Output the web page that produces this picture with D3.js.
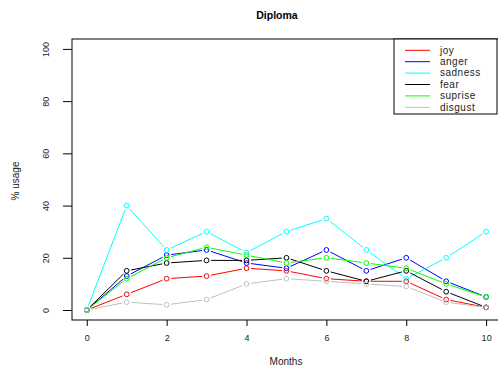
<!DOCTYPE html>
<meta charset="utf-8">
<style>
body { margin: 0; background: #fff; }
svg { font-family: "Liberation Sans", Arial, sans-serif; }
.tick text { font-size: 9px; fill: #222; }
</style>
<svg width="498" height="370"></svg>
<script src="https://d3js.org/d3.v7.min.js"></script>
<script>

var months = [0, 1, 2, 3, 4, 5, 6, 7, 8, 9, 10];
var names = ["joy", "anger", "sadness", "fear", "suprise", "disgust"];
var colors = ["#ff0000", "#0000ff", "#00ffff", "#000000", "#00ff00", "#c0c0c0"];

var joy     = [0, 6, 12, 13, 16, 15, 12, 11, 11, 4, 1];
var anger   = [0, 13, 21, 23, 18, 16, 23, 15, 20, 11, 5];
var sadness = [0, 40, 23, 30, 22, 30, 35, 23, 12, 20, 30];
var fear    = [0, 15, 18, 19, 19, 20, 15, 11, 15, 7, 1];
var suprise = [0, 12, 20, 24, 21, 18, 20, 18, 16, 10, 5];
var disgust = [0, 3, 2, 4, 10, 12, 11, 10, 9, 3, 1];
var series = [joy, anger, sadness, fear, suprise, disgust];

var xTicks = [0, 2, 4, 6, 8, 10];
var yTicks = [0, 20, 40, 60, 80, 100];

var svg = d3.select("svg");

var x = d3.scaleLinear().domain([-0.37, 10.37]).range([72, 500.9]);
var y = d3.scaleLinear().domain([-3.83, 103.8]).range([320, 39]);

// plot box
svg.append("rect")
    .attr("x", x.range()[0]).attr("y", y.range()[1])
    .attr("width", x.range()[1] - x.range()[0])
    .attr("height", y.range()[0] - y.range()[1])
    .attr("fill", "none").attr("stroke", "#000").attr("stroke-width", 1);

// axes, R style (no domain line, ticks off the box)
var xAxis = svg.append("g")
    .attr("transform", "translate(0,320)")
    .call(d3.axisBottom(x).tickValues(xTicks).tickSize(6).tickPadding(9));
xAxis.select(".domain").remove();

var yAxis = svg.append("g")
    .attr("transform", "translate(72,0)")
    .call(d3.axisLeft(y).tickValues(yTicks).tickSize(9));
yAxis.select(".domain").remove();
yAxis.selectAll(".tick text")
    .attr("x", 0).attr("dy", 0)
    .attr("text-anchor", "middle")
    .attr("transform", "translate(-23,0) rotate(-90)");

// titles
svg.append("text")
    .attr("x", 277).attr("y", 19)
    .attr("text-anchor", "middle")
    .attr("font-weight", "bold").attr("font-size", 10.5)
    .text("Diploma");

svg.append("text")
    .attr("x", 286).attr("y", 365)
    .attr("text-anchor", "middle")
    .attr("font-size", 10).attr("fill", "#222")
    .text("Months");

svg.append("text")
    .attr("transform", "translate(19,181) rotate(-90)")
    .attr("text-anchor", "middle")
    .attr("font-size", 10).attr("fill", "#222")
    .text("% usage");

// type = "b": segments with gaps around points
var gap = 4.5;
series.forEach(function(vals, s) {
  var g = svg.append("g");
  var pts = months.map(function(m, i) { return [x(m), y(vals[i])]; });
  for (var i = 0; i < pts.length - 1; i++) {
    var a = pts[i], b = pts[i + 1];
    var dx = b[0] - a[0], dy = b[1] - a[1];
    var len = Math.sqrt(dx * dx + dy * dy);
    if (len <= 2 * gap) continue;
    var ux = dx / len, uy = dy / len;
    g.append("line")
        .attr("x1", a[0] + ux * gap).attr("y1", a[1] + uy * gap)
        .attr("x2", b[0] - ux * gap).attr("y2", b[1] - uy * gap)
        .attr("stroke", colors[s]).attr("stroke-width", 1);
  }
  g.selectAll("circle")
      .data(pts)
      .enter().append("circle")
      .attr("cx", function(d) { return d[0]; })
      .attr("cy", function(d) { return d[1]; })
      .attr("r", 2.4)
      .attr("fill", "none")
      .attr("stroke", colors[s]).attr("stroke-width", 1);
});

// legend
var legend = svg.append("g");
legend.append("rect")
    .attr("x", 394).attr("y", 39)
    .attr("width", 103).attr("height", 75)
    .attr("fill", "#fff").attr("stroke", "#000").attr("stroke-width", 1);

var rows = legend.selectAll(".row")
    .data(names)
    .enter().append("g")
    .attr("class", "row")
    .attr("transform", function(d, i) { return "translate(0," + (50.3 + 11.4 * i) + ")"; });

rows.append("line")
    .attr("x1", 405).attr("x2", 430)
    .attr("stroke", function(d, i) { return colors[i]; })
    .attr("stroke-width", 1);

rows.append("text")
    .attr("x", 440).attr("dy", "0.33em")
    .attr("font-size", 10).attr("fill", "#222")
    .attr("letter-spacing", 0.5)
    .text(function(d) { return d; });

</script>
